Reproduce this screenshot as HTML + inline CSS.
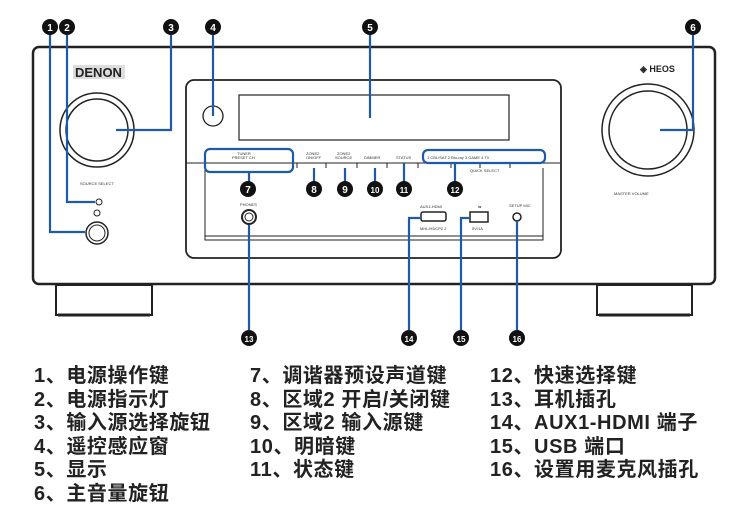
<!DOCTYPE html>
<html><head><meta charset="utf-8"><style>
body{margin:0;background:#fff;width:750px;height:525px;overflow:hidden;position:relative;font-family:"Liberation Sans","Noto Sans CJK SC",sans-serif}
.col{position:absolute;top:365px;font-size:20px;font-weight:bold;line-height:23.6px;color:#222;white-space:nowrap;letter-spacing:0.6px}
</style></head><body>
<svg width="750" height="360" style="position:absolute;left:0;top:0" font-family="Liberation Sans, sans-serif">
<g fill="none" stroke="#222">
<rect x="33" y="47" width="682" height="237" rx="6" stroke-width="2.5"/>
<rect x="56" y="285" width="96" height="30" stroke-width="2"/>
<line x1="58" y1="315" x2="150" y2="315" stroke-width="3"/>
<rect x="597" y="285" width="95" height="30" stroke-width="2"/>
<line x1="599" y1="315" x2="690" y2="315" stroke-width="3"/>
<rect x="186" y="80" width="375" height="178" rx="8" stroke-width="1.8"/>
<rect x="239" y="95" width="270" height="45" stroke-width="1.2"/>
<circle cx="213" cy="116" r="10" stroke-width="1.3"/>
<circle cx="97" cy="130" r="37" stroke-width="1.5"/>
<circle cx="97" cy="130" r="31" stroke-width="1.5"/>
<circle cx="648" cy="130" r="46" stroke-width="1.5"/>
<circle cx="648" cy="130" r="39" stroke-width="1.5"/>
<circle cx="97" cy="233" r="11" stroke-width="1.5"/>
<circle cx="97" cy="233" r="8" stroke-width="1"/>
<circle cx="99" cy="202" r="3"/><circle cx="97" cy="213" r="3"/>
<line x1="186" y1="163" x2="560" y2="163" stroke-width="1"/>
<path d="M205 168 V240 H543 V168" stroke-width="1"/>
<line x1="205" y1="236" x2="543" y2="236" stroke-width="1"/>
<path d="M297 163v5M326 163v5M357 163v5M387 163v5M418 163v5M451 163v5M480 163v5M510 163v5" stroke-width="1"/>
<circle cx="249" cy="217" r="7" stroke-width="2"/>
<circle cx="249" cy="217" r="4" stroke-width="1"/>
<rect x="421" y="212" width="25" height="9" rx="2" stroke-width="1.5"/>
<rect x="470" y="212" width="18" height="10" stroke-width="1.5"/>
<circle cx="517" cy="217" r="4" stroke-width="1.5"/>
</g>
<rect x="73" y="65" width="52" height="14" fill="#ddd"/>
<text x="75" y="77" font-size="13" font-weight="bold" fill="#222">DENON</text>
<text x="640" y="72" font-size="9" font-weight="bold" fill="#222">◈ HEOS</text>
<g font-size="4" fill="#333">
<text x="80" y="185">SOURCE SELECT</text><text x="614" y="195">MASTER VOLUME</text>
<text x="240" y="206">PHONES</text><text x="420" y="208">AUX1-HDMI</text><text x="420" y="230">MHL/HDCP2.2</text>
<text x="478" y="208">⇆</text><text x="472" y="230">5V/1A</text><text x="509" y="207">SETUP MIC</text>
<text x="306" y="155">ZONE2</text><text x="306" y="159">ON/OFF</text><text x="337" y="155">ZONE2</text><text x="335" y="159">SOURCE</text>
<text x="364" y="159">DIMMER</text><text x="396" y="159">STATUS</text><text x="237" y="155">TUNER</text><text x="232" y="159">PRESET CH</text>
<text x="427" y="159">1 CBL/SAT  2 Blu-ray  3 GAME  4 TV</text><text x="470" y="172">QUICK SELECT</text>
</g>
<g fill="none" stroke="#1f5aa6" stroke-width="2.2">
<path d="M50 35 V232 H85"/><path d="M67 35 V202 H95"/><path d="M171 35 V130 H116"/>
<path d="M213 35 V116"/><path d="M370 35 V118"/><path d="M693 35 V130 H660"/>
<rect x="205" y="149" width="88" height="23" rx="5"/><path d="M249 172 V182"/>
<path d="M314 168 V182M345 168 V182M375 168 V182M404 163 V182"/>
<rect x="423" y="150" width="122" height="13" rx="5"/><path d="M455 163 V182"/>
<path d="M249 225 V330"/><path d="M409 330 V218 H421"/><path d="M461 330 V218 H470"/><path d="M517 330 V221"/>
</g>
<g fill="#111">
<circle cx="50" cy="27" r="8"/><circle cx="67" cy="27" r="8"/><circle cx="171" cy="27" r="8"/><circle cx="213" cy="27" r="8"/><circle cx="370" cy="27" r="8"/><circle cx="693" cy="27" r="8"/>
<circle cx="248" cy="189" r="8"/><circle cx="314" cy="189" r="8"/><circle cx="345" cy="189" r="8"/><circle cx="375" cy="189" r="8"/><circle cx="404" cy="189" r="8"/><circle cx="455" cy="189" r="8"/>
<circle cx="249" cy="338" r="8"/><circle cx="409" cy="338" r="8"/><circle cx="461" cy="338" r="8"/><circle cx="517" cy="338" r="8"/>
</g>
<g fill="#fff" font-size="10" font-weight="bold" text-anchor="middle">
<text x="50" y="31">1</text><text x="67" y="31">2</text><text x="171" y="31">3</text><text x="213" y="31">4</text><text x="370" y="31">5</text><text x="693" y="31">6</text>
<text x="248" y="193">7</text><text x="314" y="193">8</text><text x="345" y="193">9</text><text x="375" y="193" font-size="8">10</text><text x="404" y="193" font-size="8">11</text><text x="455" y="193" font-size="8">12</text>
<text x="249" y="342" font-size="8">13</text><text x="409" y="342" font-size="8">14</text><text x="461" y="342" font-size="8">15</text><text x="517" y="342" font-size="8">16</text>
</g>
</svg>
<div class="col" style="left:34px">1、电源操作键<br>2、电源指示灯<br>3、输入源选择旋钮<br>4、遥控感应窗<br>5、显示<br>6、主音量旋钮</div>
<div class="col" style="left:250px">7、调谐器预设声道键<br>8、区域2 开启/关闭键<br>9、区域2 输入源键<br>10、明暗键<br>11、状态键</div>
<div class="col" style="left:490px">12、快速选择键<br>13、耳机插孔<br>14、AUX1-HDMI 端子<br>15、USB 端口<br>16、设置用麦克风插孔</div>
</body></html>
